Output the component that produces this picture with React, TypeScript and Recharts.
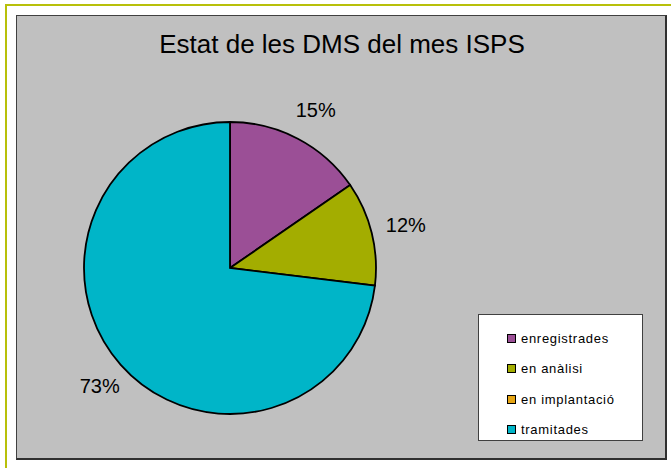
import React from "react";
import { PieChart, Pie, Cell, Legend } from "recharts";

const categories = ["enregistrades", "en anàlisi", "en implantació", "tramitades"];
const counts = [4, 3, 0, 19];
const colors = ["#9b4f96", "#a3ad00", "#e6a513", "#00b5c8"];
const title = "Estat de les DMS del mes ISPS";

const data = categories.map((name, i) => ({ name, value: counts[i] }));

const RAD = Math.PI / 180;
const FONT = "'Liberation Sans', Arial, sans-serif";

const renderLabel = (props: any) => {
  const { cx, cy, midAngle, outerRadius, percent, value } = props;
  if (!value) return null;
  const r = outerRadius + 32;
  const x = cx + r * Math.cos(-midAngle * RAD) + 3;
  const y = cy + r * Math.sin(-midAngle * RAD);
  return (
    <text
      x={x}
      y={y}
      textAnchor="middle"
      dominantBaseline="central"
      fontFamily={FONT}
      fontSize={20}
      fill="#000"
    >
      {`${Math.round(percent * 100)}%`}
    </text>
  );
};

const renderLegend = () => (
  <div
    style={{
      width: "100%",
      height: "100%",
      boxSizing: "border-box",
      background: "#fff",
      border: "1px solid #404040",
      paddingTop: 8,
      fontFamily: FONT,
      fontSize: 13,
      letterSpacing: 0.7,
    }}
  >
    {categories.map((c, i) => (
      <div
        key={c}
        style={{ display: "flex", alignItems: "center", height: 30.5, paddingLeft: 28 }}
      >
        <span
          style={{
            display: "inline-block",
            width: 7,
            height: 7,
            background: colors[i],
            border: "1.5px solid #000",
            marginRight: 5,
          }}
        />
        <span style={{ color: "#000" }}>{c}</span>
      </div>
    ))}
  </div>
);

export default function App() {
  return (
    <div style={{ position: "absolute", left: 0, top: 0, width: 671, height: 468, background: "#fff", overflow: "hidden" }}>
      <div
        style={{
          position: "absolute",
          left: 5,
          top: 4,
          width: 700,
          height: 500,
          border: "2px solid #b8c00a",
        }}
      />
      <div
        style={{
          position: "absolute",
          left: 16,
          top: 15,
          width: 648,
          height: 442,
          background: "#c0c0c0",
          borderLeft: "1px solid #404040",
          borderTop: "1px solid #404040",
          borderRight: "2px solid #303030",
          borderBottom: "2px solid #303030",
        }}
      />
      <div
        style={{
          position: "absolute",
          left: 18,
          top: 27,
          width: 648,
          textAlign: "center",
          fontFamily: FONT,
          fontSize: 26,
          lineHeight: "34px",
          color: "#000",
          whiteSpace: "nowrap",
        }}
      >
        {title}
      </div>
      <div style={{ position: "absolute", left: 0, top: 0 }}>
        <PieChart width={671} height={468} margin={{ top: 0, right: 0, bottom: 0, left: 0 }}>
          <Pie
            data={data}
            dataKey="value"
            nameKey="name"
            cx={230}
            cy={268}
            outerRadius={146}
            startAngle={90}
            endAngle={-270}
            stroke="#000"
            strokeWidth={1.8}
            labelLine={false}
            label={renderLabel}
            isAnimationActive={false}
          >
            {data.map((d, i) => (
              <Cell key={d.name} fill={colors[i]} />
            ))}
          </Pie>
          <Legend
            content={renderLegend}
            wrapperStyle={{ position: "absolute", left: 478, top: 314, width: 165, height: 127, bottom: "auto", right: "auto" }}
          />
        </PieChart>
      </div>
    </div>
  );
}
